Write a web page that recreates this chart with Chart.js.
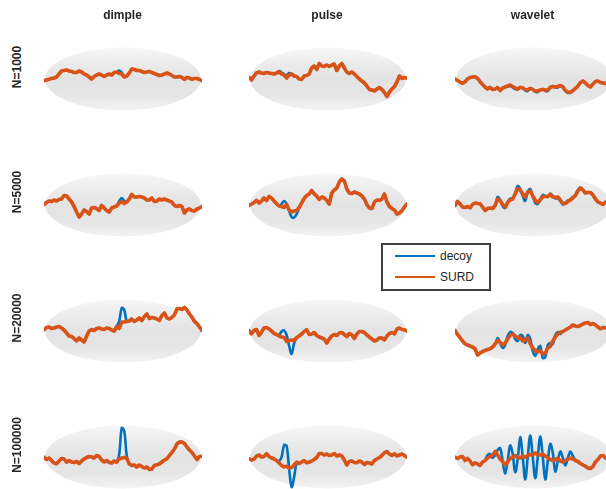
<!DOCTYPE html>
<html>
<head>
<meta charset="utf-8">
<script src="https://cdn.jsdelivr.net/npm/chart.js@4/dist/chart.umd.min.js"></script>
<style>
  html, body { margin: 0; padding: 0; background: #fff; }
  body { width: 606px; height: 489px; overflow: hidden; position: relative;
         font-family: "Liberation Sans", Arial, Helvetica, sans-serif; color: #262626; }
  canvas.panel { position: absolute; }
  .title { position: absolute; top: 8px; font-weight: bold; font-size: 12px;
           transform: translateX(-50%); white-space: nowrap; }
  .rowlab { position: absolute; left: 17px; font-weight: bold; font-size: 12px; white-space: nowrap;
            transform: translate(-50%, -50%) rotate(-90deg); }
  #legend { position: absolute; left: 381px; top: 243px; width: 106px; height: 44px;
            border: 2px solid #404040; background: #fff; z-index: 10; }
  .item { position: absolute; left: 12px; height: 14px; font-size: 12px; line-height: 14px; }
  .item span.sw { position: absolute; left: 0; top: 6px; width: 40px; height: 2px; }
  .item span.tx { position: absolute; left: 45px; top: 0; }
</style>
</head>
<body>
<div id="legend"></div>
<script>
// Column (signal type) and row (sample size) labels
const columns = ['dimple', 'pulse', 'wavelet'];
const rows = ['N=1000', 'N=5000', 'N=20000', 'N=100000'];
const seriesNames = ['decoy', 'SURD'];
const seriesColors = ['#0072BD', '#D95319'];

// SURD reconstructions, 64 samples across each panel
const surdDimple1000 = [-1.7,-1,-0.3,0.5,1,2,5,8,8.5,9,8,7.5,6.5,6.5,8,7,5,4,2,0,2.5,4,5,4,2.5,4,5,4,6.5,7,5.5,5,2,3,6,10,9.5,8.5,8.5,7.5,6.5,7,7.5,6.5,5.5,4.5,3.5,4,5,6,5,3.5,2,2,2.5,1.5,-0.3,1.5,1,-0.3,0.5,0.5,-0.5,-1.7];
const surdPulse1000 = [1.7,-1,3,6,7,6,5.5,6.5,6,5.5,5,6,7,5,4,1,4,5,3,2.5,0,-0.5,3,3.5,5,11,13,9.5,15.5,13,12.5,14,12.5,14,15,8.5,13,15.5,11,7,5.5,7,5,2.5,0,-2,-4,-7,-10.5,-11,-12,-10,-8.5,-10.5,-13.5,-17.5,-13,-10,-7.5,-3,3,0.5,1.5,0.7];
const surdWavelet1000 = [0,-1.5,-3,-4.3,-2.7,0,1.5,2,2.3,0.5,-2.7,-5.5,-8,-10,-8.3,-10.5,-10,-8.5,-11.5,-9,-8,-7,-6,-7.5,-9,-10,-8.3,-9,-10.5,-11,-9.3,-10.5,-12,-12,-11,-10.5,-11,-11,-8.3,-7.5,-8,-7.5,-6.5,-8,-11.5,-13,-13.5,-11.5,-9.5,-7,-3.5,-2,-4,-6.5,-8,-5,-2.5,-2,-3.5,-4,-4.5,-3,-2,-3];
const surdDimple5000 = [0.5,2.5,4,3.5,5,4,5.5,6,9.5,9,6,3,-1.5,-7,-12,-9,-5,-6.5,-9,-3,-2.5,-3.5,-5.5,-0.5,-3,-5.5,-7,-3,-2,-1,2,3.5,1.5,3,6,10.5,8,8,8.5,8,7,5,5,7,3.5,4,6,5,6,5,4,2.8,-0.5,-1.5,-0.5,-1.5,-8,-5,-4,-5.5,-6,-4,-3,-1.5];
const surdPulse5000 = [-0.5,1,2.5,4.5,2,4,7,4.5,8.5,7,4,1.2,-1,-1.5,-2.5,0.5,-5,-7,-6,-5.5,-2.5,2,6.5,9.5,11,14.5,11,9,5.5,8,7,4.5,1,12,15,17,23,26,24,16,12,11.5,13,12,11,9,6,0.5,-3,-3.5,2.8,5,4.5,6,11,3,-1.5,-3.5,-5,-9,-8,-5.5,-2,1.2];
const surdWavelet5000 = [-0.5,3.5,1.2,-2,-2.5,-1.5,-2.8,0.5,2,1.5,1.2,-2,-5.5,-3.5,-3,-3.5,-0.5,6,4.5,0.5,-2,2.5,5,6,11,16.5,15,11,8,13,14,9,4.5,2.5,5.2,8.5,8.5,8.5,10.5,8,7.5,8,5,1.5,1.5,3.5,5,7,9.5,14,17,15,12,12.5,12.5,10,6,3,1.8,0.5,2.8,3.5,2,1];
const surdDimple20000 = [1.2,3.5,4,2.5,3,4,4.5,3,1,-2,-5,-5.5,-7.5,-10,-7,-9,-11,-5,0,1.5,0.5,2.5,3,2,1.5,3,2.5,1,0,4.5,2.5,9,9,9.5,10,12,9.5,11,13,10.5,14.5,17,12.5,13.5,13,12,10.5,15.5,18,13.2,12,13.5,16,22,22.5,21.5,23.5,21,17,13.8,9.5,7.5,4,0.5];
const surdPulse20000 = [0.5,-2.8,0.5,1.5,-4.5,-1.2,3,3.5,2,0,-2.5,-3.5,-5,-6,-6.5,-10.5,-9.5,-9,-9.5,-6.5,-5,-3,-0.5,1.2,-3.5,-3,-1.5,-4.5,-6,-7,-8,-12,-8,-5,-3.5,-4.5,-2,-1.5,-3.5,-5.5,-2.5,-4,-7.5,-3,-0.5,-0.5,-1.5,-4,-6,-8,-10,-9,-7,-7,-9,-5,-2.5,-1.5,-2.8,2,3,1.5,1.2,-0.2];
const surdWavelet20000 = [0.5,-3.5,-6.5,-10,-12.8,-14,-15,-16,-17.8,-24,-22,-20.5,-19.5,-18.5,-17.8,-16,-13,-9.5,-11.2,-14,-12,-8,-4.5,-3,-5,-7,-6.2,-10,-9,-7,-12.8,-17,-19.5,-21,-19.5,-23,-22,-17,-15.5,-10,-6,-3,-1.2,-0.5,1,2.5,4,6,5,4.5,5.5,7,8,8.5,6.5,7.5,6,4,2.2,3.5,3.2,2.5,3,2];
const surdDimple100000 = [-0.2,-2.5,-1,-3.5,-6,-6.8,-4,-1.5,-2,-5.2,-3.5,-5,-5.5,-4.5,-6.5,-4,-2,-0.5,0.5,0,-1,1.5,0.5,-3,-5,-3.5,-5.5,-6,-4,-5.2,-2,-1,-0.5,-1.2,-7,-8.5,-8,-10,-8,-9.5,-11,-10,-12.5,-12,-8.5,-7.8,-7,-5,-3,-1.8,1.5,4.5,8,13,15,15,13.5,10,7,4.5,1,-2.5,0.5,0.8];
const surdPulse100000 = [-1.8,-3,-2,0.8,2,0,0.5,3.2,0.5,-1,-2,-3.5,-6,-8.5,-10,-9.2,-11,-10.5,-8,-5.2,-6.5,-5,-3.5,-5.8,-5,-4,-2.5,-0.5,3.5,3.5,2,3,1.5,2,3.5,1,2,1,-3,-8,-4.5,-4,-5.5,-5.8,-4,-5,-7.5,-5.5,-6,-7,-3.5,-2,-0.5,1.5,4.2,5.5,3,1.5,3.2,1,2,3,1.5,-0.2];
const surdWavelet100000 = [-0.2,-1.5,0,0.5,-3.5,-1.5,-4,-7.8,-5.8,-7,-8.5,-5,-3.5,-1,0.5,2,5.5,2,-2,-4.5,-7.8,-5,-1.5,0,1.5,-0.5,-1,1,-0.2,1.5,2.5,2,4.2,2,2,3,0.8,-0.5,-2.5,-3.5,-2.5,-1.2,-4,-5,-3.5,-2,-1.2,-2,-3.5,-4.5,-6.5,-8,-9.2,-11,-11.5,-9.5,-5,-2.5,1,1.5,-1,-0.5,1,0];

// Decoy: follows SURD except over the stretch where it departs (start index + values)
const decoyDimple1000 = [29, [7, 8.5, 6.5, 2]];
const decoyPulse1000 = [12, [8, 6.5, 5, 3.5, 6, 5]];
const decoyWavelet1000 = [20, [-8,-7.5,-7,-8.5,-10,-10.5,-8.5,-8.5,-11.5,-12,-9.5,-10,-13,-13,-11,-10,-12,-12,-8.5,-7,-8.5,-8.5,-6.5,-7.5,-12,-14,-13.5,-11.5]];
const decoyDimple5000 = [29, [-1, 4, 7, 4, 3]];
const decoyPulse5000 = [12, [-1, 1, 4, 1, -6, -12, -12.5, -9, -3]];
const decoyWavelet5000 = [16, [-0.5,8,5,-1,-3,3,6.5,6,12,19,16,9,4,13,16,9,2,1,5,10,9,8,11.5,9,6.5,7,4,0.5,2,4.5,5.5,8,10,15,17.5,15]];
const decoyDimple20000 = [29, [4.5, 10, 23, 21, 9.5]];
const decoyPulse20000 = [12, [-4, -0.5, 0.5, -4, -15, -23, -12, -7]];
const decoyWavelet20000 = [16, [-13,-7,-12,-17,-14,-5,-1,-2,-8,-10,-4,-5,-12,-4,-8,-20,-25,-18,-15,-27,-26,-14,-12,-13,-4,-1,-3,0,1]];
const decoyDimple100000 = [29, [-5.2, 3, 29, 26, 1]];
const decoyPulse100000 = [11, [-3.5, -4, 0, 12, 11, -12, -30, -20, -6, -6.5]];
const decoyWavelet100000 = [13, [2,3,-1,2,7,8.8,-4,-16.8,-4,11.5,3,-15.2,-2,19.8,0,-22.5,0,21.5,0,-21.2,0,20.5,0,-22.5,-4,13.2,4,-14.5,-4,5.5,-1,-8.5,-1,5.5,1,-3.5,-4.5]];

const surdGrid = [
  [surdDimple1000, surdPulse1000, surdWavelet1000],
  [surdDimple5000, surdPulse5000, surdWavelet5000],
  [surdDimple20000, surdPulse20000, surdWavelet20000],
  [surdDimple100000, surdPulse100000, surdWavelet100000]
];
const decoyGrid = [
  [decoyDimple1000, decoyPulse1000, decoyWavelet1000],
  [decoyDimple5000, decoyPulse5000, decoyWavelet5000],
  [decoyDimple20000, decoyPulse20000, decoyWavelet20000],
  [decoyDimple100000, decoyPulse100000, decoyWavelet100000]
];

// Panel placement
const colLeft = [44, 249, 455];
const rowTop = [9, 135, 261, 387];
const PANEL_W = 158, PANEL_H = 140;
const titleX = [122.5, 327, 532.5];
const rowLabelY = [67, 192, 318, 445];

// Grey elliptical backdrop behind each panel's traces
const ellipseBackdrop = {
  id: 'ellipseBackdrop',
  beforeDatasetsDraw(chart) {
    const ctx = chart.ctx;
    const area = chart.chartArea;
    const cx = (area.left + area.right) / 2;
    const cy = chart.scales.y.getPixelForValue(0);
    const rx = 78, ry = 31.5;
    const g = ctx.createLinearGradient(0, cy - ry, 0, cy + ry);
    g.addColorStop(0, '#f7f7f7');
    g.addColorStop(0.25, '#ececec');
    g.addColorStop(0.5, '#e3e3e3');
    g.addColorStop(0.78, '#e6e6e6');
    g.addColorStop(1, '#f3f3f3');
    ctx.save();
    ctx.beginPath();
    ctx.ellipse(cx, cy, rx, ry, 0, 0, Math.PI * 2);
    ctx.fillStyle = g;
    ctx.fill();
    ctx.restore();
  }
};

function buildDecoy(surd, seg) {
  const out = surd.slice();
  const start = seg[0];
  seg[1].forEach((v, k) => { out[start + k] = v; });
  return out;
}

rows.forEach((rowName, r) => {
  columns.forEach((colName, c) => {
    const surd = surdGrid[r][c];
    const decoy = buildDecoy(surd, decoyGrid[r][c]);
    const cv = document.createElement('canvas');
    cv.className = 'panel';
    cv.width = PANEL_W; cv.height = PANEL_H;
    cv.style.left = colLeft[c] + 'px';
    cv.style.top = rowTop[r] + 'px';
    cv.style.width = PANEL_W + 'px';
    cv.style.height = PANEL_H + 'px';
    document.body.appendChild(cv);
    new Chart(cv, {
      type: 'line',
      data: {
        labels: surd.map((_, i) => i),
        datasets: [
          { label: seriesNames[1], data: surd, borderColor: seriesColors[1], borderWidth: 3.6,
            pointRadius: 0, tension: 0, order: 0, borderJoinStyle: 'round', borderCapStyle: 'round' },
          { label: seriesNames[0], data: decoy, borderColor: seriesColors[0], borderWidth: 2.6,
            pointRadius: 0, tension: 0.35, order: 1, borderJoinStyle: 'round' }
        ]
      },
      options: {
        responsive: false,
        animation: false,
        devicePixelRatio: 1,
        events: [],
        layout: { padding: 0 },
        plugins: { legend: { display: false }, tooltip: { enabled: false } },
        scales: {
          x: { display: false, offset: false },
          y: { display: false, min: -70, max: 70 }
        }
      },
      plugins: [ellipseBackdrop]
    });
  });
});

// Column titles and row labels
columns.forEach((name, c) => {
  const d = document.createElement('div');
  d.className = 'title';
  d.textContent = name;
  d.style.left = titleX[c] + 'px';
  document.body.appendChild(d);
});
rows.forEach((name, r) => {
  const d = document.createElement('div');
  d.className = 'rowlab';
  d.textContent = name;
  d.style.top = rowLabelY[r] + 'px';
  document.body.appendChild(d);
});

// Legend
const legend = document.getElementById('legend');
seriesNames.forEach((name, i) => {
  const it = document.createElement('div');
  it.className = 'item';
  it.style.top = (4 + i * 21) + 'px';
  const sw = document.createElement('span');
  sw.className = 'sw';
  sw.style.background = seriesColors[i];
  const tx = document.createElement('span');
  tx.className = 'tx';
  tx.textContent = name;
  it.appendChild(sw); it.appendChild(tx);
  legend.appendChild(it);
});
</script>
</body>
</html>
